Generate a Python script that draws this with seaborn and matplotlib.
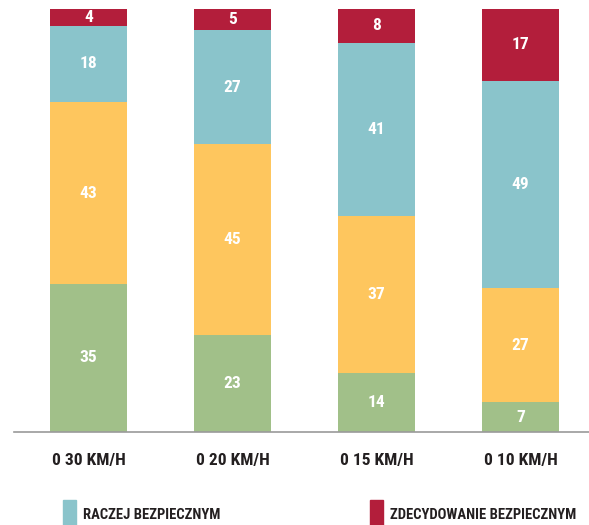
import pandas as pd
import matplotlib
matplotlib.use("Agg")
import matplotlib.pyplot as plt
import seaborn as sns
from matplotlib import font_manager
from matplotlib.patches import Rectangle

# data
speeds = ["0 30 KM/H", "0 20 KM/H", "0 15 KM/H", "0 10 KM/H"]
series = ["ZDECYDOWANIE NIEBEZPIECZNYM", "RACZEJ NIEBEZPIECZNYM",
          "RACZEJ BEZPIECZNYM", "ZDECYDOWANIE BEZPIECZNYM"]
green_vals = [35, 23, 14, 7]
yellow_vals = [43, 45, 37, 27]
teal_vals = [18, 27, 41, 49]
red_vals = [4, 5, 8, 17]
colors = ["#A1C089", "#FEC65E", "#8AC4CB", "#B31E3B"]
legend_series = ["RACZEJ BEZPIECZNYM", "ZDECYDOWANIE BEZPIECZNYM"]

# pick a narrow font if we have one
font = "DejaVu Sans"
for f in ["Liberation Sans Narrow", "Roboto Condensed", "DejaVu Sans Condensed"]:
    try:
        font_manager.findfont(f, fallback_to_default=False)
        font = f
        break
    except Exception:
        pass

sns.set_style("white")
plt.rcParams["font.family"] = [font, "DejaVu Sans"]
plt.rcParams["font.weight"] = "bold"

df = pd.DataFrame({"speed": speeds, series[0]: green_vals, series[1]: yellow_vals,
                   series[2]: teal_vals, series[3]: red_vals})

fig = plt.figure(figsize=(5.89, 5.25), dpi=100)
# 144 px per category, first bar centred at x=88.5 px
ax = fig.add_axes([8 / 589, 93 / 525, 1 - 8 / 589, 423 / 525])

bottom = [0, 0, 0, 0]
for s, c in zip(series, colors):
    sns.barplot(data=df, x="speed", y=s, color=c, width=0.535,
                bottom=bottom, ax=ax, saturation=1, linewidth=0)
    bottom = [b + v for b, v in zip(bottom, df[s])]

for cont in ax.containers:
    ax.bar_label(cont, label_type="center", color="white",
                 fontsize=12.5, fontweight="bold")

ax.set_xlim(-(88.5 - 8) / 144, (589 - 88.5) / 144)
ax.set_ylim(0, 100)
ax.set_xlabel("")
ax.set_ylabel("")
ax.set_yticks([])
sns.despine(ax=ax, left=True, right=True, top=True)
ax.spines["bottom"].set_color("#9a9a9a")
ax.spines["bottom"].set_linewidth(1.2)
ax.spines["bottom"].set_bounds(-0.52, 3.6)
ax.set_xticks([0, 1, 2, 3])
ax.set_xticklabels(speeds, fontsize=12.5, fontweight="bold", color="#231f20")
ax.tick_params(axis="x", which="major", length=0, pad=15)
ax.set_xticks([-0.515, 0.5, 1.5, 2.5], minor=True)
ax.tick_params(axis="x", which="minor", length=6, width=1.2, color="#9a9a9a")

# legend (only the two entries shown in the picture)
leg_x = [63, 370]
for name, px in zip(legend_series, leg_x):
    c = colors[series.index(name)]
    fig.patches.append(Rectangle((px / 589, -0.01), 13 / 589, 30 / 525,
                                 transform=fig.transFigure, color=c))
    fig.text((px + 20) / 589, 10 / 525, name, fontsize=10.5, fontweight="bold",
             color="#231f20", va="center", ha="left")

fig.savefig("out.png", dpi=100)
